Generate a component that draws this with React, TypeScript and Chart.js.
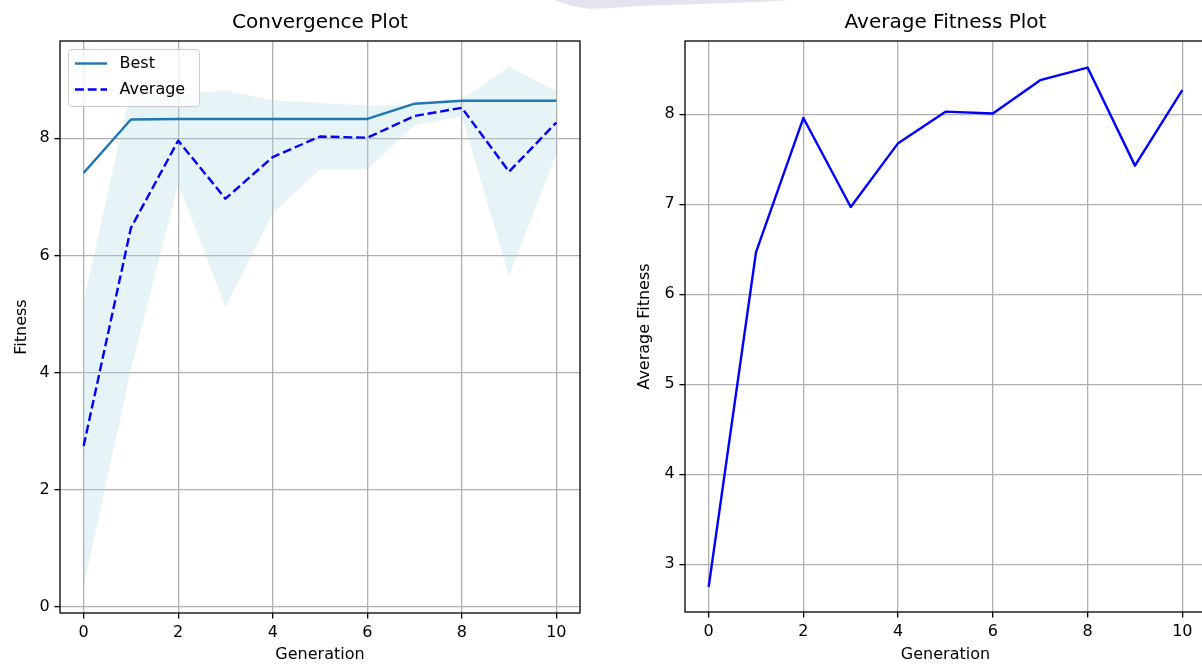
import React, { useEffect, useRef } from "react";
import { Chart, registerables } from "chart.js";

Chart.register(...registerables);

// ---- Data ----
const generations = [0, 1, 2, 3, 4, 5, 6, 7, 8, 9, 10];
const bestFitness = [7.41, 8.32, 8.33, 8.33, 8.33, 8.33, 8.33, 8.59, 8.64, 8.64, 8.64];
const averageFitness = [2.75, 6.47, 7.96, 6.97, 7.68, 8.03, 8.01, 8.38, 8.52, 7.43, 8.27];
const bandUpper = [5.22, 8.84, 8.74, 8.82, 8.65, 8.6, 8.56, 8.56, 8.66, 9.22, 8.8];
const bandLower = [0.35, 4.05, 7.22, 5.12, 6.72, 7.47, 7.47, 8.22, 8.38, 5.64, 7.74];
const xTicks = [0, 2, 4, 6, 8, 10];
const convergenceYTicks = [0, 2, 4, 6, 8];
const averageYTicks = [3, 4, 5, 6, 7, 8];
const legendLabels = ["Best", "Average"];

// ---- Styles ----
const FONT = "'DejaVu Sans', 'Liberation Sans', sans-serif";
const BEST_COLOR = "#1f77b4";
const AVG_COLOR = "#0000ff";
const BAND_COLOR = "rgba(173,216,230,0.3)";
const GRID_COLOR = "#b0b0b0";
const AVG_DASH = [8.9, 3.84];

const pts = (ys: number[]) => generations.map((g, i) => ({ x: g, y: ys[i] }));

const framePlugin = {
  id: "frame",
  afterDraw(chart: any) {
    const { ctx, chartArea: a } = chart;
    ctx.save();
    ctx.strokeStyle = "#000";
    ctx.lineWidth = 1.3;
    ctx.strokeRect(a.left, a.top, a.right - a.left, a.bottom - a.top);
    ctx.restore();
  },
};

const legendPlugin = {
  id: "mplLegend",
  afterDatasetsDraw(chart: any) {
    const { ctx, chartArea: a } = chart;
    const x0 = a.left + 8.5;
    const y0 = a.top + 8.5;
    const w = 131;
    const h = 57;
    ctx.save();
    ctx.beginPath();
    if ((ctx as any).roundRect) (ctx as any).roundRect(x0, y0, w, h, 3);
    else ctx.rect(x0, y0, w, h);
    ctx.fillStyle = "rgba(255,255,255,0.8)";
    ctx.fill();
    ctx.strokeStyle = "#cccccc";
    ctx.lineWidth = 1;
    ctx.stroke();
    const styles = [
      { color: BEST_COLOR, dash: [] as number[] },
      { color: AVG_COLOR, dash: AVG_DASH },
    ];
    legendLabels.forEach((label, i) => {
      const cy = y0 + 14 + i * 26;
      ctx.beginPath();
      ctx.setLineDash(styles[i].dash);
      ctx.strokeStyle = styles[i].color;
      ctx.lineWidth = 2.4;
      ctx.moveTo(x0 + 6.5, cy);
      ctx.lineTo(x0 + 6.5 + 32, cy);
      ctx.stroke();
      ctx.setLineDash([]);
      ctx.fillStyle = "#000";
      ctx.font = `16px ${FONT}`;
      ctx.textBaseline = "middle";
      ctx.textAlign = "left";
      ctx.fillText(label, x0 + 51, cy);
    });
    ctx.restore();
  },
};

function xScale(height: number) {
  return {
    type: "linear",
    min: -0.5,
    max: 10.5,
    afterBuildTicks: (s: any) => {
      s.ticks = xTicks.map((v) => ({ value: v }));
    },
    afterFit: (s: any) => {
      s.height = height;
    },
    grid: {
      color: GRID_COLOR,
      lineWidth: 1.3,
      drawTicks: true,
      tickLength: 5.6,
      tickColor: "#000",
      tickWidth: 1.3,
    },
    border: { display: false },
    ticks: {
      color: "#000",
      font: { size: 16, family: FONT },
      padding: 4.8,
      maxRotation: 0,
      autoSkip: false,
      callback: (v: any) => String(v),
    },
    title: {
      display: true,
      text: "Generation",
      color: "#000",
      font: { size: 16, family: FONT },
      padding: { top: 0, bottom: 0.5 },
    },
  };
}

function yScale(min: number, max: number, ticks: number[], width: number, label: string, titlePad: number) {
  return {
    type: "linear",
    min,
    max,
    afterBuildTicks: (s: any) => {
      s.ticks = ticks.map((v) => ({ value: v }));
    },
    afterFit: (s: any) => {
      s.width = width;
    },
    grid: {
      color: GRID_COLOR,
      lineWidth: 1.3,
      drawTicks: true,
      tickLength: 5.6,
      tickColor: "#000",
      tickWidth: 1.3,
    },
    border: { display: false },
    ticks: {
      color: "#000",
      font: { size: 16, family: FONT },
      padding: 4.8,
      autoSkip: false,
      callback: (v: any) => String(v),
    },
    title: {
      display: true,
      text: label,
      color: "#000",
      font: { size: 16, family: FONT },
      padding: { top: titlePad, bottom: 0 },
    },
  };
}

function titleOpts(text: string) {
  return {
    display: true,
    text,
    color: "#000",
    fullSize: false,
    font: { size: 20, weight: "normal", family: FONT },
    padding: { top: 11, bottom: 6 },
  };
}

export default function App() {
  const leftRef = useRef<HTMLCanvasElement>(null);
  const rightRef = useRef<HTMLCanvasElement>(null);

  useEffect(() => {
    Chart.defaults.font.family = FONT;
    Chart.defaults.color = "#000";

    const left = new Chart(leftRef.current as HTMLCanvasElement, {
      type: "line",
      data: {
        datasets: [
          {
            label: "upper",
            data: pts(bandUpper),
            borderColor: "rgba(0,0,0,0)",
            borderWidth: 1,
            pointRadius: 0,
            fill: "+1",
            backgroundColor: BAND_COLOR,
            order: 3,
          },
          {
            label: "lower",
            data: pts(bandLower),
            borderColor: "rgba(0,0,0,0)",
            borderWidth: 1,
            pointRadius: 0,
            fill: false,
            order: 3,
          },
          {
            label: "Best",
            data: pts(bestFitness),
            borderColor: BEST_COLOR,
            borderWidth: 2.4,
            borderJoinStyle: "round",
            pointRadius: 0,
            fill: false,
            order: 1,
          },
          {
            label: "Average",
            data: pts(averageFitness),
            borderColor: AVG_COLOR,
            borderWidth: 2.4,
            borderDash: AVG_DASH,
            borderJoinStyle: "round",
            pointRadius: 0,
            fill: false,
            order: 0,
          },
        ],
      } as any,
      options: {
        responsive: false,
        maintainAspectRatio: false,
        animation: false,
        devicePixelRatio: 1,
        layout: { padding: { left: 0, right: 20, top: 0, bottom: 0 } },
        plugins: {
          legend: { display: false },
          tooltip: { enabled: false },
          title: titleOpts("Convergence Plot") as any,
        },
        scales: {
          x: xScale(52) as any,
          y: yScale(-0.1, 9.66, convergenceYTicks, 60, "Fitness", 12.4) as any,
        },
      },
      plugins: [legendPlugin, framePlugin],
    });

    const right = new Chart(rightRef.current as HTMLCanvasElement, {
      type: "line",
      data: {
        datasets: [
          {
            label: "Average Fitness",
            data: pts(averageFitness),
            borderColor: AVG_COLOR,
            borderWidth: 2.4,
            borderJoinStyle: "round",
            pointRadius: 0,
            fill: false,
          },
        ],
      } as any,
      options: {
        responsive: false,
        maintainAspectRatio: false,
        animation: false,
        devicePixelRatio: 1,
        layout: { padding: { left: 0, right: 14, top: 0, bottom: 0 } },
        plugins: {
          legend: { display: false },
          tooltip: { enabled: false },
          title: titleOpts("Average Fitness Plot") as any,
        },
        scales: {
          x: xScale(53) as any,
          y: yScale(2.47, 8.815, averageYTicks, 85, "Average Fitness", 35.4) as any,
        },
      },
      plugins: [framePlugin],
    });

    return () => {
      left.destroy();
      right.destroy();
    };
  }, []);

  return (
    <div
      style={{
        position: "fixed",
        left: 0,
        top: 0,
        width: 1202,
        height: 665,
        overflow: "hidden",
        background: "#fff",
      }}
    >
      <svg
        width={1202}
        height={20}
        style={{ position: "absolute", left: 0, top: 0, pointerEvents: "none" }}
      >
        <polygon
          points="555,0 790,0 760,2 700,4 640,6 610,8 590,9 572,6 560,2"
          fill="rgba(205,205,230,0.55)"
        />
      </svg>
      <div style={{ position: "absolute", left: 0, top: 0, width: 600, height: 665 }}>
        <canvas ref={leftRef} width={600} height={665} style={{ display: "block", width: 600, height: 665 }} />
      </div>
      <div style={{ position: "absolute", left: 600, top: 0, width: 602, height: 665, overflow: "hidden" }}>
        <canvas ref={rightRef} width={620} height={665} style={{ display: "block", width: 620, height: 665 }} />
      </div>
    </div>
  );
}
